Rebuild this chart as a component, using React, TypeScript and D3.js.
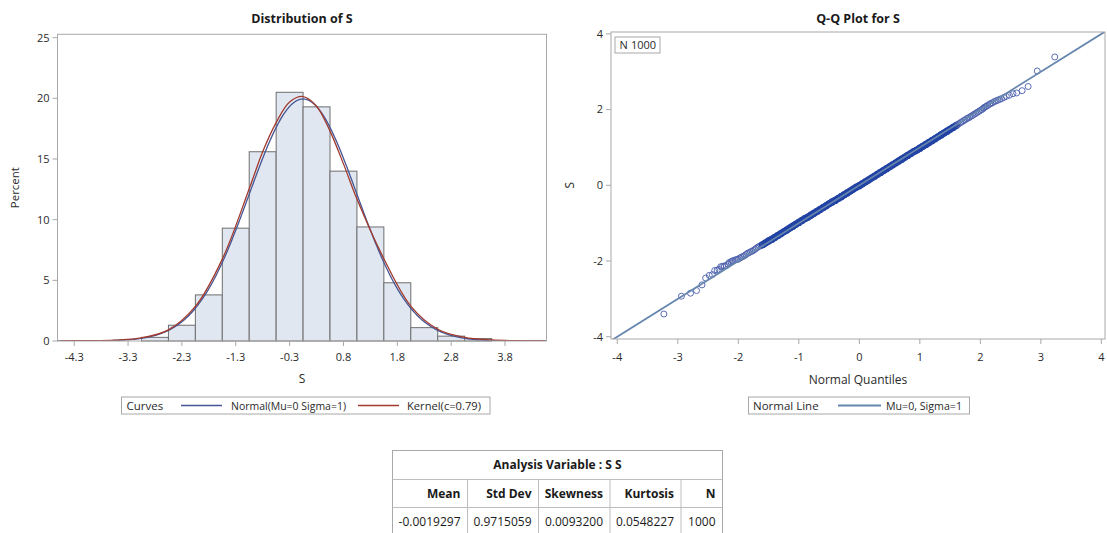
import React from 'react';
import * as d3 from 'd3';

// histogram bins (midpoints, percent) - bin width 0.5
const BIN_MIDS = [-2.75, -2.25, -1.75, -1.25, -0.75, -0.25, 0.25, 0.75, 1.25, 1.75, 2.25, 2.75, 3.25];
const BIN_PCT = [0.3, 1.3, 3.8, 9.3, 15.6, 20.5, 19.3, 14.0, 9.4, 4.8, 1.1, 0.4, 0.2];
const BIN_WIDTH = 0.5;

const HIST_X_TICKS = [-4.25, -3.25, -2.25, -1.25, -0.25, 0.75, 1.75, 2.75, 3.75];
const HIST_X_LABELS = ['-4.3', '-3.3', '-2.3', '-1.3', '-0.3', '0.8', '1.8', '2.8', '3.8'];
const HIST_Y_TICKS = [0, 5, 10, 15, 20, 25];

// fitted normal
const MU = 0;
const SIGMA = 1;

// kernel density curve (percent scale)
const KERNEL_X = [-4.5, -4, -3.5, -3, -2.5, -2, -1.5, -1, -0.75, -0.5, -0.25, 0, 0.25, 0.5, 0.75, 1, 1.5, 2, 2.5, 3, 3.5, 4, 4.5];
const KERNEL_Y = [0.01, 0.03, 0.08, 0.26, 0.92, 2.85, 6.75, 12.55, 15.6, 18.0, 19.7, 20.15, 19.35, 17.3, 14.6, 11.7, 6.78, 2.88, 0.97, 0.3, 0.09, 0.02, 0.0];

// Q-Q points: normal quantile vs sorted S
const QQ_LOW_Q = [-3.23, -2.94, -2.79, -2.69, -2.60, -2.54, -2.48, -2.43, -2.39, -2.35, -2.32, -2.29, -2.26, -2.23, -2.20, -2.17, -2.15, -2.12, -2.10, -2.08];
const QQ_LOW_S = [-3.40, -2.93, -2.85, -2.78, -2.63, -2.45, -2.38, -2.36, -2.25, -2.24, -2.22, -2.15, -2.14, -2.13, -2.12, -2.08, -2.04, -2.02, -2.00, -1.99];
const QQ_MID_Q = [
  -2.05, -2.025, -2.0, -1.975, -1.95, -1.925, -1.9, -1.875, -1.85, -1.825, -1.8, -1.775, -1.75, -1.725, -1.7, -1.675, -1.65, -1.625, -1.6,
  -1.55, -1.5, -1.45, -1.4, -1.35, -1.3, -1.25, -1.2, -1.15, -1.1, -1.05, -1.0, -0.95, -0.9, -0.85, -0.8, -0.75, -0.7, -0.65, -0.6,
  -0.55, -0.5, -0.45, -0.4, -0.35, -0.3, -0.25, -0.2, -0.15, -0.1, -0.05, 0.0, 0.05, 0.1, 0.15, 0.2, 0.25, 0.3, 0.35, 0.4, 0.45, 0.5,
  0.55, 0.6, 0.65, 0.7, 0.75, 0.8, 0.85, 0.9, 0.95, 1.0, 1.05, 1.1, 1.15, 1.2, 1.25, 1.3, 1.35, 1.4, 1.45, 1.5, 1.55,
  1.6, 1.625, 1.65, 1.675, 1.7, 1.725, 1.75, 1.775, 1.8, 1.825, 1.85, 1.875, 1.9, 1.925, 1.95, 1.975, 2.0, 2.025, 2.05,
];
const QQ_MID_S = [
  -1.97, -1.96, -1.95, -1.92, -1.90, -1.88, -1.86, -1.83, -1.80, -1.78, -1.76, -1.74, -1.72, -1.69, -1.66, -1.63, -1.61, -1.59, -1.57,
  -1.52, -1.47, -1.43, -1.38, -1.33, -1.28, -1.23, -1.18, -1.13, -1.08, -1.03, -0.98, -0.93, -0.88, -0.84, -0.79, -0.74, -0.69, -0.64, -0.59,
  -0.54, -0.49, -0.44, -0.40, -0.35, -0.30, -0.25, -0.20, -0.15, -0.10, -0.05, -0.01, 0.04, 0.09, 0.14, 0.19, 0.24, 0.29, 0.34, 0.39, 0.44, 0.49,
  0.54, 0.59, 0.64, 0.69, 0.74, 0.79, 0.84, 0.89, 0.93, 0.98, 1.03, 1.08, 1.13, 1.18, 1.23, 1.28, 1.33, 1.38, 1.43, 1.48, 1.53,
  1.58, 1.61, 1.63, 1.66, 1.68, 1.71, 1.73, 1.76, 1.78, 1.80, 1.83, 1.85, 1.88, 1.90, 1.93, 1.95, 1.98, 2.00, 2.03,
];
const QQ_HIGH_Q = [2.06, 2.08, 2.10, 2.12, 2.15, 2.17, 2.20, 2.23, 2.26, 2.29, 2.32, 2.35, 2.39, 2.43, 2.48, 2.54, 2.60, 2.69, 2.79, 2.94, 3.23];
const QQ_HIGH_S = [2.05, 2.07, 2.09, 2.11, 2.14, 2.16, 2.18, 2.21, 2.23, 2.25, 2.27, 2.29, 2.32, 2.35, 2.38, 2.42, 2.44, 2.50, 2.61, 3.02, 3.39];
const QQ_TICKS = [-4, -3, -2, -1, 0, 1, 2, 3, 4];
const QQ_Y_TICKS = [-4, -2, 0, 2, 4];
const N_OBS = 1000;

// summary table
const TABLE_TITLE = 'Analysis Variable : S S';
const STAT_HEADERS = ['Mean', 'Std Dev', 'Skewness', 'Kurtosis', 'N'];
const STAT_VALUES = ['-0.0019297', '0.9715059', '0.0093200', '0.0548227', '1000'];

const FONT = "'Open Sans', 'DejaVu Sans', sans-serif";
const TXT = '#2a2a2a';
const FRAME = '#a8a8a8';
const NORMAL_COLOR = '#445694';
const KERNEL_COLOR = '#a23a2e';
const REF_LINE = '#6686ae';

function Histogram() {
  const L = 57.5, R = 546.5, T = 34.3, B = 341;
  const x = d3.scaleLinear().domain([-4.56, 4.52]).range([L, R]);
  const y = d3.scaleLinear().domain([0, 25.28]).range([B, T]);

  const normPts = d3.range(-4.56, 4.53, 0.02).map(v => [v, 100 * BIN_WIDTH * Math.exp(-0.5 * ((v - MU) / SIGMA) ** 2) / (SIGMA * Math.sqrt(2 * Math.PI))]);
  const kernPts = KERNEL_X.map((v, i) => [v, KERNEL_Y[i]]);
  const line = d3.line<number[]>().x(d => x(d[0])).y(d => y(d[1]));
  const kline = d3.line<number[]>().x(d => x(d[0])).y(d => y(d[1])).curve(d3.curveCatmullRom);
  const cx = (L + R) / 2;

  return (
    <g fontFamily={FONT}>
      <defs>
        <clipPath id="hclip"><rect x={L} y={T} width={R - L} height={B - T} /></clipPath>
      </defs>
      <text x={cx} y={22.5} textAnchor="middle" fontSize={12.5} fontWeight="bold" fill="#1a1a1a">Distribution of S</text>
      {BIN_MIDS.map((m, i) => (
        <rect key={m} x={x(m - BIN_WIDTH / 2)} y={y(BIN_PCT[i])} width={x(m + BIN_WIDTH / 2) - x(m - BIN_WIDTH / 2)}
          height={y(0) - y(BIN_PCT[i])} fill="#e1e7f1" stroke="#6e6e6e" strokeWidth={1} />
      ))}
      <g clipPath="url(#hclip)" fill="none" strokeWidth={1.3}>
        <path d={line(normPts) || ''} stroke={NORMAL_COLOR} />
        <path d={kline(kernPts) || ''} stroke={KERNEL_COLOR} />
      </g>
      <rect x={L} y={T} width={R - L} height={B - T} fill="none" stroke={FRAME} />
      {HIST_Y_TICKS.map(t => (
        <g key={t}>
          <line x1={L - 5} x2={L} y1={y(t)} y2={y(t)} stroke={FRAME} />
          <text x={L - 8} y={y(t)} dy="0.35em" textAnchor="end" fontSize={11} fill={TXT}>{t}</text>
        </g>
      ))}
      {HIST_X_TICKS.map((t, i) => (
        <g key={t}>
          <line x1={x(t)} x2={x(t)} y1={B} y2={B + 5} stroke={FRAME} />
          <text x={x(t)} y={361} textAnchor="middle" fontSize={11} fill={TXT}>{HIST_X_LABELS[i]}</text>
        </g>
      ))}
      <text x={cx} y={383} textAnchor="middle" fontSize={12} fill={TXT}>S</text>
      <text transform={`translate(19,${(T + B) / 2}) rotate(-90)`} textAnchor="middle" fontSize={11.5} fill={TXT}>Percent</text>
      <g fontSize={11.5} fill={TXT}>
        <rect x={121.5} y={397} width={368.5} height={17} fill="none" stroke={FRAME} />
        <text x={126.5} y={409.5}>Curves</text>
        <line x1={181} x2={222} y1={405.5} y2={405.5} stroke={NORMAL_COLOR} strokeWidth={1.3} />
        <text x={231} y={409.5} textLength={115} lengthAdjust="spacingAndGlyphs">Normal(Mu=0 Sigma=1)</text>
        <line x1={358} x2={399} y1={405.5} y2={405.5} stroke={KERNEL_COLOR} strokeWidth={1.3} />
        <text x={407} y={409.5} textLength={74} lengthAdjust="spacingAndGlyphs">Kernel(c=0.79)</text>
      </g>
    </g>
  );
}

function QQPlot() {
  const L = 611, R = 1105, T = 32, B = 339;
  const x = d3.scaleLinear().domain([-4.104, 4.06]).range([L, R]);
  const y = d3.scaleLinear().domain([-4.06, 4.05]).range([B, T]);
  const cx = (L + R) / 2;

  const allQ = [...QQ_LOW_Q, ...QQ_MID_Q, ...QQ_HIGH_Q];
  const allS = [...QQ_LOW_S, ...QQ_MID_S, ...QQ_HIGH_S];
  const band = QQ_MID_Q.map((q, i) => [q, QQ_MID_S[i]]).filter(d => Math.abs(d[0]) <= 1.6);
  const bandLine = d3.line<number[]>().x(d => x(d[0])).y(d => y(d[1]));
  const dom = x.domain();

  return (
    <g fontFamily={FONT}>
      <defs>
        <clipPath id="qclip"><rect x={L} y={T} width={R - L} height={B - T} /></clipPath>
      </defs>
      <text x={cx} y={22.5} textAnchor="middle" fontSize={12.5} fontWeight="bold" fill="#1a1a1a">Q-Q Plot for S</text>
      <g clipPath="url(#qclip)">
        <path d={bandLine(band) || ''} fill="none" stroke="#2243a5" strokeWidth={7} strokeLinecap="round" />
        {allQ.map((q, i) => (
          <circle key={i} cx={x(q)} cy={y(allS[i])} r={3} fill="none"
            stroke={Math.abs(q) <= 1.6 ? '#2243a5' : '#4a5dac'} strokeWidth={Math.abs(q) <= 1.6 ? 1.2 : 0.9} />
        ))}
        <line x1={x(dom[0])} y1={y(MU + SIGMA * dom[0])} x2={x(dom[1])} y2={y(MU + SIGMA * dom[1])}
          stroke={REF_LINE} strokeWidth={1.8} />
      </g>
      <rect x={L} y={T} width={R - L} height={B - T} fill="none" stroke={FRAME} />
      <rect x={615} y={37} width={45} height={16} fill="#fff" stroke={FRAME} />
      <text x={619.5} y={49} fontSize={11} fill={TXT}>N</text>
      <text x={631} y={49} fontSize={11} fill={TXT}>{N_OBS}</text>
      {QQ_Y_TICKS.map(t => (
        <g key={t}>
          <line x1={L - 5} x2={L} y1={y(t)} y2={y(t)} stroke={FRAME} />
          <text x={L - 8} y={y(t)} dy="0.35em" textAnchor="end" fontSize={11} fill={TXT}>{t}</text>
        </g>
      ))}
      {QQ_TICKS.map(t => (
        <g key={t}>
          <line x1={x(t)} x2={x(t)} y1={B} y2={B + 5} stroke={FRAME} />
          <text x={x(t)} y={361} textAnchor="middle" fontSize={11} fill={TXT}>{t}</text>
        </g>
      ))}
      <text x={cx} y={384} textAnchor="middle" fontSize={12} fill={TXT}>Normal Quantiles</text>
      <text transform={`translate(574,${y(0)}) rotate(-90)`} textAnchor="middle" fontSize={12} fill={TXT}>S</text>
      <g fontSize={11.5} fill={TXT}>
        <rect x={748.5} y={397} width={221} height={17} fill="none" stroke={FRAME} />
        <text x={753} y={409.5}>Normal Line</text>
        <line x1={838} x2={881} y1={405.5} y2={405.5} stroke={REF_LINE} strokeWidth={1.8} />
        <text x={886} y={409.5} textLength={76} lengthAdjust="spacingAndGlyphs">Mu=0, Sigma=1</text>
      </g>
    </g>
  );
}

function StatsTable() {
  const cols = [392.5, 467.5, 538.5, 610, 681, 722.5];
  const rows = [450.5, 479.5, 507.5, 536];
  const border = '#bdbdbd';
  return (
    <g fontFamily={FONT} fontSize={12} fill="#1a1a1a">
      <rect x={cols[0]} y={rows[0]} width={cols[5] - cols[0]} height={rows[3] - rows[0]} fill="#fff" stroke="#a9a9a9" />
      <line x1={cols[0]} x2={cols[5]} y1={rows[1]} y2={rows[1]} stroke={border} />
      <line x1={cols[0]} x2={cols[5]} y1={rows[2]} y2={rows[2]} stroke={border} />
      {cols.slice(1, 5).map(c => (
        <line key={c} x1={c} x2={c} y1={rows[1]} y2={rows[3]} stroke={border} />
      ))}
      <text x={(cols[0] + cols[5]) / 2} y={(rows[0] + rows[1]) / 2} dy="0.35em" textAnchor="middle" fontWeight="bold">{TABLE_TITLE}</text>
      {STAT_HEADERS.map((h, i) => (
        <text key={h} x={cols[i + 1] - 7} y={(rows[1] + rows[2]) / 2} dy="0.35em" textAnchor="end" fontWeight="bold">{h}</text>
      ))}
      {STAT_VALUES.map((v, i) => (
        <text key={i} x={cols[i + 1] - 7} y={521.5} dy="0.35em" textAnchor="end">{v}</text>
      ))}
    </g>
  );
}

export default function App() {
  return (
    <svg width={1107} height={533} style={{ position: 'absolute', left: 0, top: 0, background: '#fff' }}>
      <rect width={1107} height={533} fill="#fff" />
      <Histogram />
      <QQPlot />
      <StatsTable />
    </svg>
  );
}
